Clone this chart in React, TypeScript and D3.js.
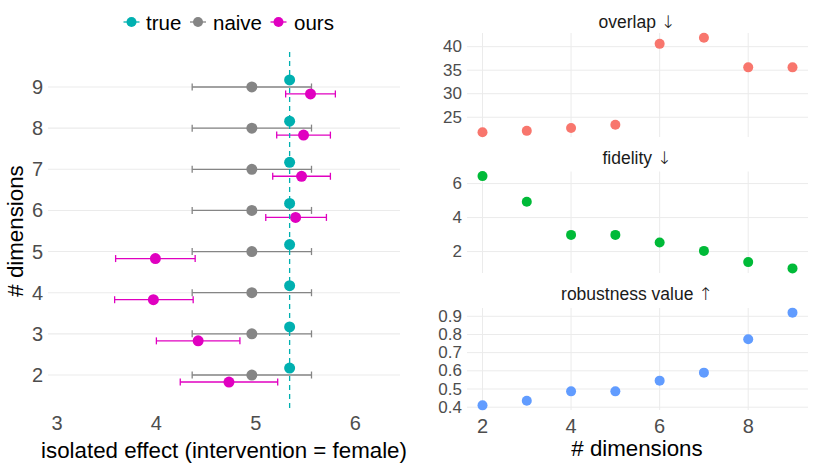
import React from 'react';
import * as d3 from 'd3';

// dimensions 2..9
const dims = [2, 3, 4, 5, 6, 7, 8, 9];

const trueEffect = [5.34, 5.34, 5.34, 5.34, 5.34, 5.34, 5.34, 5.34];
const naiveEst = [4.96, 4.96, 4.96, 4.96, 4.96, 4.96, 4.96, 4.96];
const naiveLo = [4.36, 4.36, 4.36, 4.36, 4.36, 4.36, 4.36, 4.36];
const naiveHi = [5.56, 5.56, 5.56, 5.56, 5.56, 5.56, 5.56, 5.56];
const oursEst = [4.73, 4.42, 3.97, 3.99, 5.4, 5.46, 5.48, 5.55];
const oursLo = [4.24, 4.0, 3.58, 3.59, 5.1, 5.17, 5.21, 5.3];
const oursHi = [5.22, 4.84, 4.37, 4.39, 5.71, 5.75, 5.75, 5.8];

const overlap = [21.8, 22.1, 22.7, 23.4, 40.6, 41.9, 35.6, 35.6];
const fidelity = [6.44, 4.93, 2.98, 2.98, 2.53, 2.04, 1.38, 1.01];
const robustness = [0.41, 0.435, 0.487, 0.487, 0.546, 0.59, 0.774, 0.92];

const leftXTicks = [3, 4, 5, 6];
const rightXTicks = [2, 4, 6, 8];
const overlapTicks = [25, 30, 35, 40];
const fidelityTicks = [2, 4, 6];
const robustTicks = [0.4, 0.5, 0.6, 0.7, 0.8, 0.9];

const C_TRUE = '#00B0B0';
const C_NAIVE = '#858585';
const C_OURS = '#E000C0';
const GRID = '#EBEBEB';
const TICK = '#4D4D4D';
const FONT = '"Liberation Sans", Arial, sans-serif';

const DODGE = 0.17;

function ErrBar({ x1, x2, y, color }: { x1: number; x2: number; y: number; color: string }) {
  return (
    <g stroke={color} strokeWidth={1.3}>
      <line x1={x1} x2={x2} y1={y} y2={y} />
      <line x1={x1} x2={x1} y1={y - 3.5} y2={y + 3.5} />
      <line x1={x2} x2={x2} y1={y - 3.5} y2={y + 3.5} />
    </g>
  );
}

function pad(ext: number[]) {
  const [a, b] = d3.extent(ext) as [number, number];
  const p = (b - a) * 0.05;
  return [a - p, b + p];
}

function SmallPanel({
  title, arrow, values, ticks, color, top, bottom, titleY, fmt, showX,
}: {
  title: string; arrow: string; values: number[]; ticks: number[]; color: string;
  top: number; bottom: number; titleY: number; fmt: (d: number) => string; showX?: boolean;
}) {
  const x = d3.scaleLinear().domain([1.65, 9.35]).range([467, 808]);
  const y = d3.scaleLinear().domain(pad(values)).range([bottom, top]);
  return (
    <g>
      <text x={637} y={titleY} textAnchor="middle" fontSize={17.5} fill="#1a1a1a" dominantBaseline="central">
        {title} <tspan fontFamily="DejaVu Sans" fontWeight={200}>{arrow}</tspan>
      </text>
      {rightXTicks.map(t => (
        <line key={'v' + t} x1={x(t)} x2={x(t)} y1={top} y2={bottom} stroke={GRID} strokeWidth={1} />
      ))}
      {ticks.map(t => (
        <g key={'h' + t}>
          <line x1={467} x2={808} y1={y(t)} y2={y(t)} stroke={GRID} strokeWidth={1} />
          <text x={462} y={y(t)} textAnchor="end" fontSize={17} fill={TICK} dominantBaseline="central">{fmt(t)}</text>
        </g>
      ))}
      {values.map((v, i) => (
        <circle key={i} cx={x(dims[i])} cy={y(v)} r={5} fill={color} />
      ))}
      {showX && rightXTicks.map(t => (
        <text key={'xl' + t} x={x(t)} y={426} textAnchor="middle" fontSize={20} fill={TICK} dominantBaseline="central">{t}</text>
      ))}
    </g>
  );
}

export default function App() {
  const x = d3.scaleLinear().domain([2.91, 6.45]).range([48, 400]);
  const y = d3.scaleLinear().domain([1.15, 9.85]).range([410, 52]);

  const legend = [
    { label: 'true', color: C_TRUE, cx: 131.5, tx: 146 },
    { label: 'naive', color: C_NAIVE, cx: 198, tx: 213 },
    { label: 'ours', color: C_OURS, cx: 278.5, tx: 294 },
  ];

  return (
    <div style={{ position: 'fixed', left: 0, top: 0 }}>
      <svg width={814} height={468} style={{ display: 'block', fontFamily: FONT, background: '#fff' }}>
        {/* legend */}
        {legend.map(l => (
          <g key={l.label}>
            <line x1={l.cx - 8} x2={l.cx + 8} y1={22} y2={22} stroke={l.color} strokeWidth={1.3} />
            <circle cx={l.cx} cy={22} r={5} fill={l.color} />
            <text x={l.tx} y={22} fontSize={20.5} fill="#000" dominantBaseline="central">{l.label}</text>
          </g>
        ))}

        {/* left panel grid */}
        {dims.map(d => (
          <g key={'g' + d}>
            <line x1={48} x2={400} y1={y(d)} y2={y(d)} stroke={GRID} strokeWidth={1.1} />
            <text x={43} y={y(d)} textAnchor="end" fontSize={20} fill={TICK} dominantBaseline="central">{d}</text>
          </g>
        ))}
        {leftXTicks.map(t => (
          <text key={'xt' + t} x={x(t)} y={423} textAnchor="middle" fontSize={20} fill={TICK} dominantBaseline="central">{t}</text>
        ))}

        {/* naive */}
        {dims.map((d, i) => (
          <g key={'n' + d}>
            <ErrBar x1={x(naiveLo[i])} x2={x(naiveHi[i])} y={y(d)} color={C_NAIVE} />
            <circle cx={x(naiveEst[i])} cy={y(d)} r={5.5} fill={C_NAIVE} />
          </g>
        ))}
        {/* ours */}
        {dims.map((d, i) => (
          <g key={'o' + d}>
            <ErrBar x1={x(oursLo[i])} x2={x(oursHi[i])} y={y(d - DODGE)} color={C_OURS} />
            <circle cx={x(oursEst[i])} cy={y(d - DODGE)} r={5.5} fill={C_OURS} />
          </g>
        ))}
        {/* true */}
        <line x1={x(trueEffect[0])} x2={x(trueEffect[0])} y1={52} y2={410} stroke={C_TRUE} strokeWidth={1.3} strokeDasharray="5,4" />
        {dims.map((d, i) => (
          <circle key={'t' + d} cx={x(trueEffect[i])} cy={y(d + DODGE)} r={5.5} fill={C_TRUE} />
        ))}

        {/* axis titles */}
        <text x={224} y={450} textAnchor="middle" fontSize={22.3} fill="#000" dominantBaseline="central">isolated effect (intervention = female)</text>
        <text transform="translate(15,231) rotate(-90)" textAnchor="middle" fontSize={22.3} fill="#000" dominantBaseline="central"># dimensions</text>

        {/* right panels */}
        <SmallPanel title="overlap" arrow="↓" values={overlap} ticks={overlapTicks} color="#F8766D" top={33} bottom={137} titleY={22} fmt={d => String(d)} />
        <SmallPanel title="fidelity" arrow="↓" values={fidelity} ticks={fidelityTicks} color="#00BA38" top={171.5} bottom={273} titleY={158} fmt={d => String(d)} />
        <SmallPanel title="robustness value" arrow="↑" values={robustness} ticks={robustTicks} color="#619CFF" top={308} bottom={410} titleY={294} fmt={d => d.toFixed(1)} showX />
        <text x={637} y={448} textAnchor="middle" fontSize={22.3} fill="#000" dominantBaseline="central"># dimensions</text>
      </svg>
    </div>
  );
}
